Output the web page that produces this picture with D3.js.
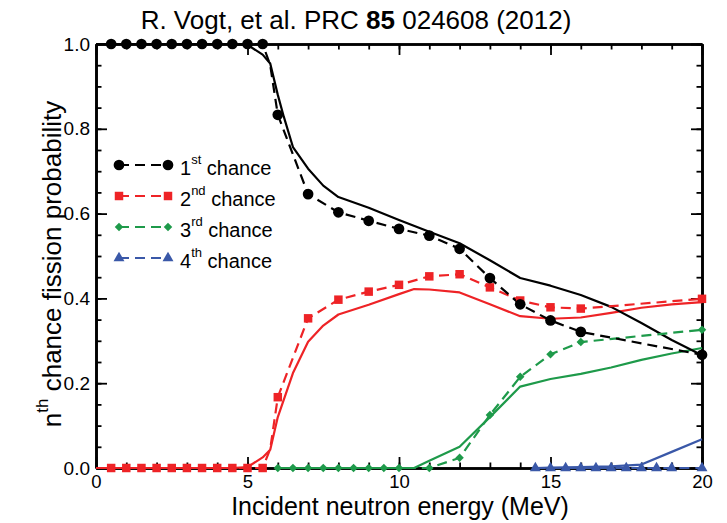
<!DOCTYPE html>
<html>
<head>
<meta charset="utf-8">
<script src="https://cdn.jsdelivr.net/npm/d3@7"></script>
<style>
  html, body { margin: 0; padding: 0; background: #fff; }
  svg { display: block; font-family: "Liberation Sans", Arial, Helvetica, sans-serif; }
</style>
</head>
<body>
<svg id="chart" width="727" height="523"></svg>
<script>
// Fission probabilities by chance (1st..4th): calculated points (dashed, with markers)
// and model curves (solid), versus incident neutron energy in MeV.

const firstE  = [0.5, 1, 1.5, 2, 2.5, 3, 3.5, 4, 4.5, 5, 5.5, 5.75, 6, 7, 8, 9, 10, 11, 12, 13, 14, 15, 16, 20];
const firstP  = [1, 1, 1, 1, 1, 1, 1, 1, 1, 1, 1, 0.95, 0.833, 0.646, 0.603, 0.583, 0.564, 0.548, 0.517, 0.448, 0.386, 0.348, 0.321, 0.267];

const secondE = [0.5, 1, 1.5, 2, 2.5, 3, 3.5, 4, 4.5, 5, 5.5, 5.75, 6, 7, 8, 9, 10, 11, 12, 13, 14, 15, 16, 20];
const secondP = [0, 0, 0, 0, 0, 0, 0, 0, 0, 0, 0, 0.045, 0.167, 0.353, 0.397, 0.416, 0.432, 0.452, 0.457, 0.426, 0.395, 0.379, 0.376, 0.399];

const thirdE  = [6, 6.5, 7, 7.5, 8, 8.5, 9, 9.5, 10, 11, 12, 13, 14, 15, 16, 20];
const thirdP  = [0, 0, 0, 0, 0, 0, 0, 0, 0, 0, 0.024, 0.125, 0.215, 0.268, 0.297, 0.326];

const fourthE = [14.5, 15, 15.5, 16, 16.5, 17, 17.5, 18, 18.5, 19, 20];
const fourthP = [0, 0, 0, 0, 0, 0, 0, 0, 0, 0, 0];

// Model curves
const firstModelE  = [0, 4.5, 5, 5.5, 5.75, 6, 6.2, 6.5, 7, 7.5, 8, 9, 10, 11, 12, 13, 14, 15, 16, 17, 18, 19, 20];
const firstModelP  = [1, 1, 0.998, 0.975, 0.954, 0.88, 0.828, 0.757, 0.706, 0.666, 0.639, 0.614, 0.585, 0.557, 0.53, 0.49, 0.448, 0.43, 0.408, 0.38, 0.342, 0.302, 0.266];

const secondModelE = [0, 4.5, 5, 5.5, 5.75, 6, 6.5, 7, 7.5, 8, 9, 10, 10.5, 11, 12, 13, 14, 15, 16, 17, 18, 19, 20];
const secondModelP = [0, 0, 0.002, 0.025, 0.043, 0.12, 0.224, 0.298, 0.336, 0.362, 0.385, 0.41, 0.422, 0.421, 0.414, 0.386, 0.358, 0.352, 0.355, 0.366, 0.378, 0.386, 0.391];

const thirdModelE  = [6, 10.5, 11, 12, 13, 14, 15, 16, 17, 18, 19, 20];
const thirdModelP  = [0, 0, 0.017, 0.05, 0.12, 0.192, 0.21, 0.222, 0.237, 0.255, 0.27, 0.283];

const fourthModelE = [14.5, 15, 16, 17, 18, 19, 20];
const fourthModelP = [0, 0.001, 0.002, 0.004, 0.008, 0.038, 0.068];

const xTicks = [0, 5, 10, 15, 20];
const yTicks = [0, 0.2, 0.4, 0.6, 0.8, 1.0];
const legendOrdinals = [["1", "st"], ["2", "nd"], ["3", "rd"], ["4", "th"]];

const zip = (xs, ys) => xs.map((v, i) => [v, ys[i]]);

const series = [
  { color: "#000000", marker: "circle",   pts: zip(firstE, firstP),   model: zip(firstModelE, firstModelP) },
  { color: "#ee2326", marker: "square",   pts: zip(secondE, secondP), model: zip(secondModelE, secondModelP) },
  { color: "#1e9a4a", marker: "diamond",  pts: zip(thirdE, thirdP),   model: zip(thirdModelE, thirdModelP) },
  { color: "#3a58a8", marker: "triangle", pts: zip(fourthE, fourthP), model: zip(fourthModelE, fourthModelP) }
];

const svg = d3.select("#chart");
const frame = { left: 96, right: 702, top: 44, bottom: 468 };

const x = d3.scaleLinear().domain([0, 20]).range([frame.left, frame.right]);
const y = d3.scaleLinear().domain([0, 1]).range([frame.bottom, frame.top]);

// ---- axes: inward ticks on all four sides, minor + major ----
const minorX = d3.range(0, 21, 1);
const minorY = d3.range(0, 1.0001, 0.05);

function styleAxis(g) {
  g.selectAll("path.domain").attr("stroke", "#000").attr("stroke-width", 2.6);
  g.selectAll(".tick line").attr("stroke", "#000").attr("stroke-width", 1.8);
  g.selectAll(".tick text").attr("fill", "#000").style("font-family", "'Liberation Sans', Arial, sans-serif");
}

const axesG = svg.append("g");

axesG.append("g").attr("transform", `translate(0,${frame.bottom})`)
  .call(d3.axisBottom(x).tickValues(minorX).tickSizeInner(-5.5).tickSizeOuter(0).tickFormat(""))
  .call(styleAxis);
axesG.append("g").attr("transform", `translate(0,${frame.bottom})`)
  .call(d3.axisBottom(x).tickValues(xTicks).tickSizeInner(-11).tickSizeOuter(0).tickPadding(7).tickFormat(d3.format("d")))
  .call(styleAxis)
  .call(g => g.selectAll(".tick text").attr("font-size", 18.5).attr("dy", "0.68em"));

axesG.append("g").attr("transform", `translate(0,${frame.top})`)
  .call(d3.axisTop(x).tickValues(minorX).tickSizeInner(-5.5).tickSizeOuter(0).tickFormat(""))
  .call(styleAxis);
axesG.append("g").attr("transform", `translate(0,${frame.top})`)
  .call(d3.axisTop(x).tickValues(xTicks).tickSizeInner(-11).tickSizeOuter(0).tickFormat(""))
  .call(styleAxis);

axesG.append("g").attr("transform", `translate(${frame.left},0)`)
  .call(d3.axisLeft(y).tickValues(minorY).tickSizeInner(-5.5).tickSizeOuter(0).tickFormat(""))
  .call(styleAxis);
axesG.append("g").attr("transform", `translate(${frame.left},0)`)
  .call(d3.axisLeft(y).tickValues(yTicks).tickSizeInner(-11).tickSizeOuter(0).tickPadding(6).tickFormat(d3.format(".1f")))
  .call(styleAxis)
  .call(g => g.selectAll(".tick text").attr("font-size", 19));

axesG.append("g").attr("transform", `translate(${frame.right},0)`)
  .call(d3.axisRight(y).tickValues(minorY).tickSizeInner(-5.5).tickSizeOuter(0).tickFormat(""))
  .call(styleAxis);
axesG.append("g").attr("transform", `translate(${frame.right},0)`)
  .call(d3.axisRight(y).tickValues(yTicks).tickSizeInner(-11).tickSizeOuter(0).tickFormat(""))
  .call(styleAxis);

// ---- curves ----
const line = d3.line().x(d => x(d[0])).y(d => y(d[1]));
const plot = svg.append("g");

const drawOrder = [3, 2, 1, 0];

drawOrder.forEach(i => {
  const s = series[i];
  plot.append("path").datum(s.model)
    .attr("d", line).attr("fill", "none")
    .attr("stroke", s.color).attr("stroke-width", 2.2).attr("stroke-linejoin", "round");
});

drawOrder.forEach(i => {
  const s = series[i];
  plot.append("path").datum(s.pts)
    .attr("d", line).attr("fill", "none")
    .attr("stroke", s.color).attr("stroke-width", 2.2)
    .attr("stroke-dasharray", "10,6").attr("stroke-linejoin", "round");
});

// marker shapes; the diamond is a square turned by 45 degrees
const symbolFor = {
  circle:   { path: d3.symbol().type(d3.symbolCircle).size(90), rot: 0 },
  square:   { path: d3.symbol().type(d3.symbolSquare).size(72), rot: 0 },
  diamond:  { path: d3.symbol().type(d3.symbolSquare).size(36), rot: 45 },
  triangle: { path: d3.symbol().type(d3.symbolTriangle).size(52), rot: 0 }
};

function placeMarker(sel, kind, px, py) {
  sel.attr("d", symbolFor[kind].path)
    .attr("transform", `translate(${px},${py}) rotate(${symbolFor[kind].rot})`);
}

drawOrder.forEach(i => {
  const s = series[i];
  // markers sit on the half-MeV grid; intermediate vertices carry none
  const marked = s.pts.filter(d => Number.isInteger(d[0] * 2));
  plot.append("g").selectAll("path").data(marked).join("path")
    .attr("fill", s.color)
    .each(function (d) { placeMarker(d3.select(this), s.marker, x(d[0]), y(d[1])); });
});

// ---- legend ----
const legend = svg.append("g");
const legendY = [165, 196, 227, 258];
series.forEach((s, i) => {
  const g = legend.append("g").attr("transform", `translate(0,${legendY[i]})`);
  g.append("line").attr("x1", 119).attr("x2", 168).attr("y1", 0).attr("y2", 0)
    .attr("stroke", s.color).attr("stroke-width", 2.2).attr("stroke-dasharray", "10,6");
  [119, 168].forEach(px => placeMarker(g.append("path").attr("fill", s.color), s.marker, px, 0));
  const t = g.append("text").attr("x", 180).attr("y", 10).attr("font-size", 20).attr("fill", "#000");
  t.append("tspan").text(legendOrdinals[i][0]);
  t.append("tspan").attr("font-size", 13).attr("dy", -11).text(legendOrdinals[i][1]);
  t.append("tspan").attr("dy", 11).text(" chance");
});

// ---- titles ----
const title = svg.append("text").attr("x", 356).attr("y", 29).attr("text-anchor", "middle")
  .attr("font-size", 26).attr("fill", "#000");
title.append("tspan").text("R. Vogt, et al. PRC ");
title.append("tspan").attr("font-weight", "bold").text("85");
title.append("tspan").text(" 024608 (2012)");

svg.append("text").attr("x", 400).attr("y", 515).attr("text-anchor", "middle")
  .attr("font-size", 25).attr("fill", "#000").text("Incident neutron energy (MeV)");

const yl = svg.append("text").attr("transform", "translate(61,264) rotate(-90)")
  .attr("text-anchor", "middle").attr("font-size", 26).attr("fill", "#000");
yl.append("tspan").text("n");
yl.append("tspan").attr("font-size", 17).attr("dy", -13).text("th");
yl.append("tspan").attr("dy", 13).text(" chance fission probability");
</script>
</body>
</html>
